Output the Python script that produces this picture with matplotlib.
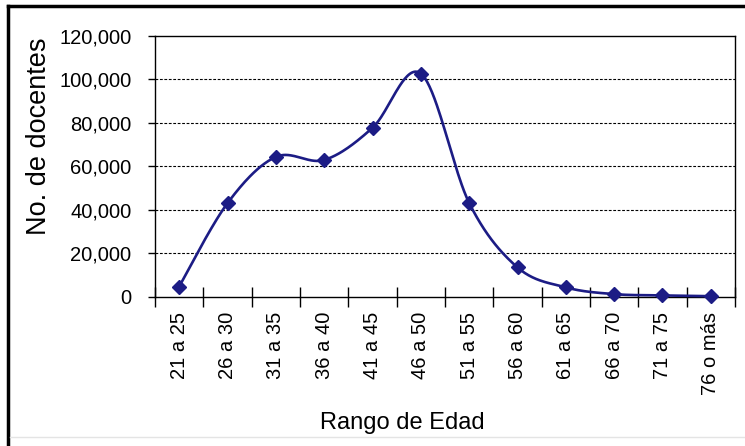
import numpy as np
import matplotlib
matplotlib.use("Agg")
import matplotlib.pyplot as plt
from matplotlib.lines import Line2D
from matplotlib.ticker import FuncFormatter

plt.rcParams['font.family'] = ['Liberation Sans', 'DejaVu Sans']

categories = ["21 a 25", "26 a 30", "31 a 35", "36 a 40", "41 a 45", "46 a 50",
              "51 a 55", "56 a 60", "61 a 65", "66 a 70", "71 a 75", "76 o más"]
docentes = [4600, 43000, 64300, 62900, 77700, 102700,
            43100, 13400, 4200, 1100, 500, 150]
y_ticks = [0, 20000, 40000, 60000, 80000, 100000, 120000]
x_title = "Rango de Edad"
y_title = "No. de docentes"

navy = "#1c1c85"

fig = plt.figure(figsize=(7.45, 4.46), dpi=100)
ax = fig.add_axes([155/745, 1-296.5/446, 580/745, 260.5/446])

# Excel-style smoothed line (cubic Bezier through points)
x = np.arange(len(docentes), dtype=float)
y = np.array(docentes, dtype=float)
px = np.concatenate([[x[0]], x, [x[-1]]])
py = np.concatenate([[y[0]], y, [y[-1]]])
cx, cy = [], []
t = np.linspace(0, 1, 40)
for i in range(len(x) - 1):
    p0 = np.array([px[i+1], py[i+1]])
    p3 = np.array([px[i+2], py[i+2]])
    c1 = p0 + (np.array([px[i+2], py[i+2]]) - np.array([px[i], py[i]])) / 6
    c2 = p3 - (np.array([px[i+3], py[i+3]]) - np.array([px[i+1], py[i+1]])) / 6
    b = ((1-t)**3)[:, None]*p0 + (3*(1-t)**2*t)[:, None]*c1 + (3*(1-t)*t**2)[:, None]*c2 + (t**3)[:, None]*p3
    cx.extend(b[:, 0]); cy.extend(b[:, 1])
ax.plot(cx, cy, color=navy, lw=1.9, zorder=3, clip_on=False)
ax.plot(x, y, linestyle='none', marker='D', markersize=7, color=navy,
        markeredgecolor=navy, zorder=4, clip_on=False)

ax.set_xlim(-0.5, len(categories) - 0.5)
ax.set_ylim(0, 120000)
ax.set_yticks(y_ticks)
ax.yaxis.set_major_formatter(FuncFormatter(lambda v, p: f"{int(v):,}"))
for v in y_ticks[1:-1]:
    ax.axhline(v, color='black', lw=0.8, ls=(0, (2.5, 1.5)), zorder=1)

ax.set_xticks(np.arange(-0.5, len(categories), 1.0))
ax.set_xticklabels([])
ax.set_xticks(x, minor=True)
ax.set_xticklabels(categories, minor=True, rotation=90, fontsize=14.5)
ax.tick_params(axis='x', which='major', direction='inout', length=14, width=1)
ax.tick_params(axis='x', which='minor', length=0, pad=11)
ax.tick_params(axis='y', which='major', direction='out', length=5, width=1, pad=12, labelsize=14.5)

for s in ax.spines.values():
    s.set_color('black')
    s.set_linewidth(1.0)

ax.set_xlabel(x_title, fontsize=17)
ax.xaxis.set_label_coords(0.426, -0.485)
ax.xaxis.label.set_va('center')
ax.set_ylabel(y_title, fontsize=19.5)
ax.yaxis.set_label_coords(-0.2, 0.616)
ax.yaxis.label.set_va('center')

# outer frame (top & left visible, faint bottom)
fig.add_artist(Line2D([8/745, 1], [1-6/446, 1-6/446], color='black', lw=2.5, transform=fig.transFigure))
fig.add_artist(Line2D([8/745, 8/745], [0, 1-6/446], color='black', lw=2.5, transform=fig.transFigure))
fig.add_artist(Line2D([10/745, 1], [1-437/446, 1-437/446], color='#e4e4e4', lw=1, transform=fig.transFigure))

fig.savefig("out.png", dpi=100)
